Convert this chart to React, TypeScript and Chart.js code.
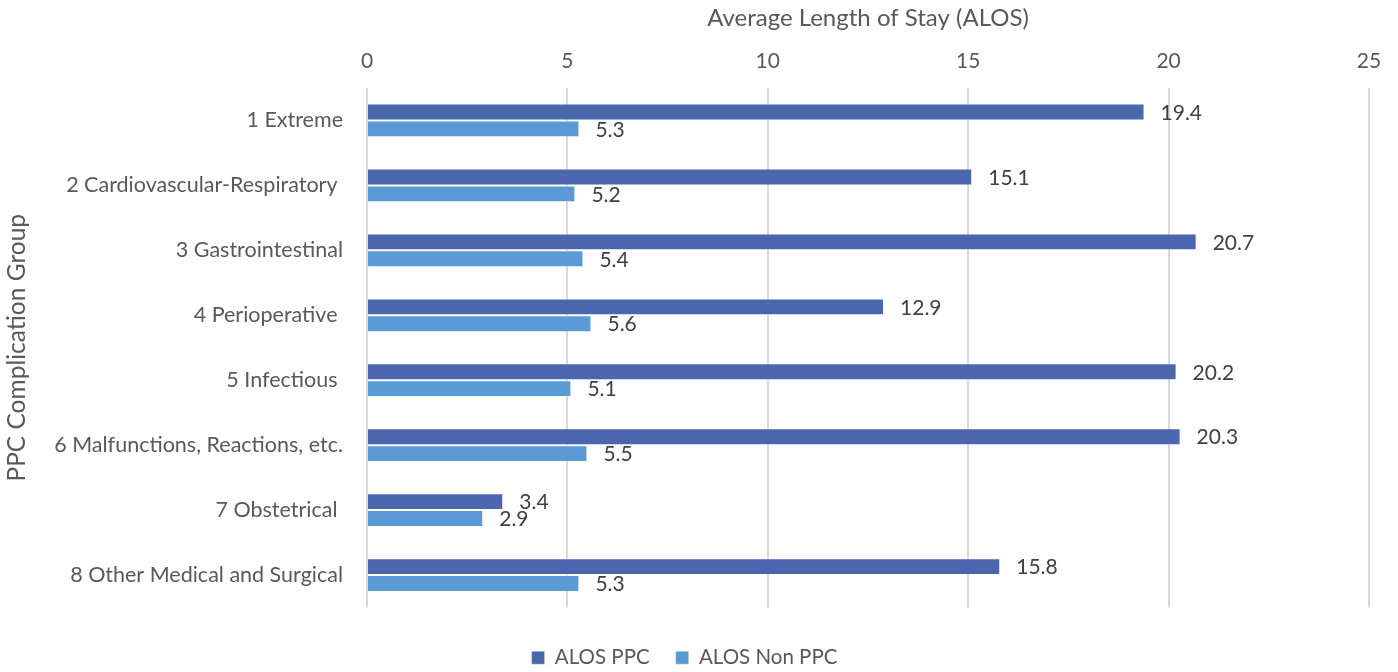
import React, { useEffect, useRef } from "react";
import { Chart, registerables } from "chart.js";
Chart.register(...registerables);

const categories = [
  "1 Extreme",
  "2 Cardiovascular-Respiratory ",
  "3 Gastrointestinal",
  "4 Perioperative ",
  "5 Infectious ",
  "6 Malfunctions, Reactions, etc.",
  "7 Obstetrical ",
  "8 Other Medical and Surgical",
];
const alosPPC = [19.4, 15.1, 20.7, 12.9, 20.2, 20.3, 3.4, 15.8];
const alosNonPPC = [5.3, 5.2, 5.4, 5.6, 5.1, 5.5, 2.9, 5.3];
const seriesNames = ["ALOS PPC", "ALOS Non PPC"];
const xMin = 0;
const xMax = 25;
const xStep = 5;
const xTitle = "Average Length of Stay (ALOS)";
const yTitle = "PPC Complication Group";

const FONT = "Lato, 'Open Sans', sans-serif";
const TEXT = "#595959";

const labelPlugin = {
  id: "barLabels",
  afterDatasetsDraw(chart: any) {
    const ctx = chart.ctx;
    ctx.save();
    ctx.font = `21px ${FONT}`;
    ctx.fillStyle = "#404040";
    ctx.textAlign = "left";
    ctx.textBaseline = "middle";
    chart.data.datasets.forEach((ds: any, i: number) => {
      const meta = chart.getDatasetMeta(i);
      meta.data.forEach((el: any, j: number) => {
        ctx.fillText(String(ds.data[j].toFixed(1)), el.x + 16, el.y + 1);
      });
    });
    ctx.restore();
  },
};

export default function App() {
  const ref = useRef<HTMLCanvasElement | null>(null);
  useEffect(() => {
    if (!ref.current) return;
    const chart = new Chart(ref.current, {
      type: "bar",
      data: {
        labels: categories,
        datasets: [
          {
            label: seriesNames[0],
            data: alosPPC,
            backgroundColor: "#4A66AC",
            borderColor: "rgba(255,255,255,0.35)",
            borderWidth: 1,
            categoryPercentage: 0.52,
            barPercentage: 1,
          },
          {
            label: seriesNames[1],
            data: alosNonPPC,
            backgroundColor: "#5B9BD5",
            borderColor: "rgba(255,255,255,0.35)",
            borderWidth: 1,
            categoryPercentage: 0.52,
            barPercentage: 1,
          },
        ],
      },
      options: {
        indexAxis: "y",
        animation: false,
        responsive: false,
        devicePixelRatio: 1,
        layout: { padding: { left: 0, right: 29, top: 0, bottom: -6 } },
        scales: {
          x: {
            position: "top",
            min: xMin,
            max: xMax,
            ticks: {
              stepSize: xStep,
              color: TEXT,
              font: { family: FONT, size: 21 },
              padding: 14,
            },
            grid: { color: "#D9D9D9", lineWidth: 2, drawTicks: false },
            border: { display: false },
            title: {
              display: true,
              text: xTitle,
              color: TEXT,
              font: { family: FONT, size: 24 },
              padding: { top: 4, bottom: 4 },
            },
            afterFit(s: any) {
              s.height = 88;
            },
          },
          x2: {
            position: "bottom",
            type: "linear",
            display: true,
            ticks: { display: false },
            grid: { display: false, drawTicks: false },
            border: { display: false },
            afterFit(s: any) {
              s.height = 14;
            },
          },
          y: {
            ticks: {
              color: TEXT,
              font: { family: FONT, size: 21.5 },
              padding: 16,
            },
            grid: { display: false },
            border: { display: false },
            title: {
              display: true,
              text: yTitle,
              color: TEXT,
              font: { family: FONT, size: 24.5 },
              padding: { top: 2, bottom: 0 },
            },
            afterFit(s: any) {
              s.width = 367;
            },
          },
        },
        plugins: {
          legend: {
            position: "bottom",
            labels: {
              color: TEXT,
              font: { family: FONT, size: 20.5 },
              boxWidth: 13,
              boxHeight: 13,
              padding: 26,
            },
          },
          tooltip: { enabled: false },
        },
      } as any,
      plugins: [labelPlugin],
    });
    return () => chart.destroy();
  }, []);
  return (
    <div style={{ position: "fixed", left: 0, top: 0, width: 1398, height: 672, background: "#fff" }}>
      <canvas ref={ref} width={1398} height={672} style={{ width: 1398, height: 672 }} />
    </div>
  );
}
